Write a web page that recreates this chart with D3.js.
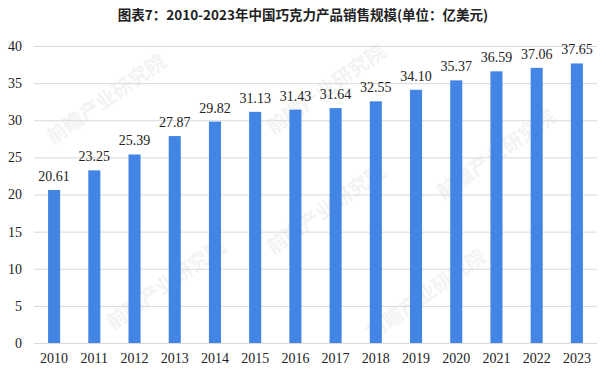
<!DOCTYPE html>
<html><head><meta charset="utf-8">
<script src="https://cdn.jsdelivr.net/npm/d3@7"></script>
<style>body{margin:0;background:#fff}svg{display:block}</style>
</head><body>
<svg id="c" width="600" height="375"></svg>
<script>
const years = ["2010","2011","2012","2013","2014","2015","2016","2017","2018","2019","2020","2021","2022","2023"];
const sales = [20.61,23.25,25.39,27.87,29.82,31.13,31.43,31.64,32.55,34.10,35.37,36.59,37.06,37.65];
const yTicks = [0,5,10,15,20,25,30,35,40];
const title = "图表7：2010-2023年中国巧克力产品销售规模(单位：亿美元)";

const svg = d3.select("#c");
const x = d3.scaleBand().domain(years).range([34, 597]).paddingInner(0.7).paddingOuter(0.35);
const y = d3.scaleLinear().domain([0,40]).range([343, 46]);

svg.append("text").attr("x", 303).attr("y", 20).attr("text-anchor","middle")
  .attr("font-family","'Noto Sans CJK SC', sans-serif").attr("font-weight","bold")
  .attr("font-size",13.5).attr("fill","#222").text(title);

// faint watermarks, kept inside the frame
const wm = [[110,105],[330,95],[500,160],[330,215],[170,290],[430,300]];
wm.forEach(([wx,wy])=>{
  svg.append("text").attr("transform",`translate(${wx},${wy}) rotate(-35)`)
    .attr("text-anchor","middle").attr("font-family","'Noto Sans CJK SC', sans-serif")
    .attr("font-size",20).attr("font-weight","bold").attr("fill","#000").attr("opacity",0.045)
    .text("前瞻产业研究院");
});

const yAxis = d3.axisLeft(y).tickValues(yTicks).tickSize(-(597-34)).tickPadding(12).tickFormat(d3.format("d"));
const gy = svg.append("g").attr("transform","translate(34,0)").call(yAxis);
gy.select(".domain").remove();
gy.selectAll(".tick line").attr("stroke","#d9d9d9").attr("stroke-width",1);
gy.selectAll(".tick text").attr("font-family","'Liberation Serif', serif").attr("font-size",14).attr("fill","#222");

const xAxis = d3.axisBottom(x).tickSize(0).tickPadding(10);
const gx = svg.append("g").attr("transform","translate(0,343)").call(xAxis);
gx.select(".domain").remove();
gx.selectAll(".tick text").attr("font-family","'Liberation Serif', serif").attr("font-size",14).attr("fill","#222");

svg.append("g").selectAll("rect").data(years).join("rect")
  .attr("x", d=>x(d)).attr("width", x.bandwidth())
  .attr("y", (d,i)=>y(sales[i])).attr("height", (d,i)=>y(0)-y(sales[i]))
  .attr("fill","#4285e4");

svg.append("g").selectAll("text").data(years).join("text")
  .attr("x", d=>x(d)+x.bandwidth()/2).attr("y",(d,i)=>y(sales[i])-9)
  .attr("text-anchor","middle").attr("font-family","'Liberation Serif', serif")
  .attr("font-size",14).attr("fill","#222").text((d,i)=>sales[i].toFixed(2));
</script>
</body></html>
